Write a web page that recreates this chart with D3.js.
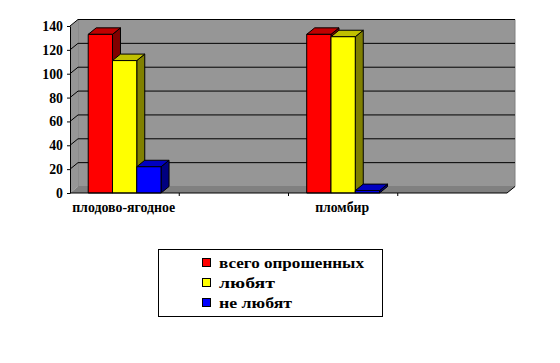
<!DOCTYPE html>
<html>
<head>
<meta charset="utf-8">
<script src="https://cdn.jsdelivr.net/npm/d3@7"></script>
<style>
  html, body { margin: 0; padding: 0; background: #ffffff; }
  svg { display: block; }
  svg text { font-family: 'Liberation Serif', 'Times New Roman', Times, 'DejaVu Serif', serif !important; font-weight: bold; fill: #000; }
</style>
</head>
<body>
<div id="chart"></div>
<script>
// categories (two of the four slots are empty in the source chart)
const categories = ['плодово-ягодное', '', 'пломбир', ''];
const seriesNames = ['всего опрошенных', 'любят', 'не любят'];
const seriesTotal = [133, null, 133, null];
const seriesLike = [111, null, 131, null];
const seriesDislike = [22, null, 2, null];
const yTicks = [0, 20, 40, 60, 80, 100, 120, 140];

const FRONT = ['#ff0000', '#ffff00', '#0000ff'];
const TOP = ['#c00000', '#c0c000', '#0000c0'];
const SIDE = ['#800000', '#808000', '#000080'];
const WALL = '#969696';
const FLOOR = '#808080';
const FONT = "'Liberation Serif', 'Times New Roman', Times, 'DejaVu Serif', serif";

const width = 560, height = 363;
const DX = 8, DY = -6.5;   // 3D depth offset

const svg = d3.select('#chart').append('svg')
    .attr('width', width)
    .attr('height', height);

const y = d3.scaleLinear().domain([0, 140]).range([193, 26]);
const x = d3.scaleBand().domain(d3.range(categories.length)).range([70, 507]).padding(0);
const inner = d3.scaleBand().domain(d3.range(seriesNames.length))
    .range([0, x.bandwidth()]).paddingInner(0).paddingOuter(0.75);

const x0 = x.range()[0], x1 = x.range()[1];
const yTop = y(140), yBase = y(0);

const pts = (arr) => arr.map((p) => p.join(',')).join(' ');

// back wall
svg.append('polygon')
    .attr('points', pts([[x0 + DX, yTop + DY], [x1 + DX, yTop + DY], [x1 + DX, yBase + DY], [x0 + DX, yBase + DY]]))
    .attr('fill', WALL)
    .attr('stroke', '#808080');
// left side wall
svg.append('polygon')
    .attr('points', pts([[x0, yTop], [x0 + DX, yTop + DY], [x0 + DX, yBase + DY], [x0, yBase]]))
    .attr('fill', WALL);

// gridlines on walls
const grid = svg.append('g');
yTicks.filter((t) => t > 0).forEach((t) => {
    grid.append('polyline')
        .attr('points', pts([[x0, y(t)], [x0 + DX, y(t) + DY], [x1 + DX, y(t) + DY]]))
        .attr('fill', 'none')
        .attr('stroke', '#000')
        .attr('stroke-width', 1);
});

// floor
svg.append('polygon')
    .attr('points', pts([[x0, yBase], [x0 + DX, yBase + DY], [x1 + DX, yBase + DY], [x1, yBase]]))
    .attr('fill', FLOOR);

// bars
const allSeries = [seriesTotal, seriesLike, seriesDislike];
const bars = svg.append('g');
categories.forEach((c, ci) => {
    allSeries.forEach((vals, si) => {
        const v = vals[ci];
        if (v == null) return;
        const bx = x(ci) + inner(si);
        const bw = inner.bandwidth();
        const by = y(v);
        const g = bars.append('g').attr('stroke', '#000').attr('stroke-width', 1).attr('stroke-linejoin', 'round');
        g.append('polygon')
            .attr('points', pts([[bx + bw, by], [bx + bw + DX, by + DY], [bx + bw + DX, yBase + DY], [bx + bw, yBase]]))
            .attr('fill', SIDE[si]);
        g.append('polygon')
            .attr('points', pts([[bx, by], [bx + DX, by + DY], [bx + bw + DX, by + DY], [bx + bw, by]]))
            .attr('fill', TOP[si]);
        g.append('rect')
            .attr('x', bx).attr('y', by)
            .attr('width', bw).attr('height', yBase - by)
            .attr('fill', FRONT[si]);
    });
});

// value axis
const yAxis = svg.append('g')
    .attr('transform', `translate(${x0},0)`)
    .attr('font-family', FONT)
    .call(d3.axisLeft(y).tickValues(yTicks).tickSize(3).tickSizeOuter(0).tickPadding(4));
yAxis.attr('font-family', FONT);
yAxis.select('.domain').attr('stroke', '#000');
yAxis.selectAll('.tick line').attr('stroke', '#000');
yAxis.selectAll('.tick text')
    .style('font-family', FONT)
    .attr('font-weight', 'bold')
    .attr('font-size', 14)
    .attr('textLength', 20)
    .attr('lengthAdjust', 'spacingAndGlyphs')
    .attr('textLength', (d) => String(d).length * 6.9)
    .attr('fill', '#000');

// category axis
svg.append('polyline')
    .attr('points', pts([[x0, yBase], [x1, yBase], [x1 + DX, yBase + DY]]))
    .attr('fill', 'none')
    .attr('stroke', '#000');
const xTicks = d3.range(1, categories.length).map((i) => x(i));
svg.append('g').selectAll('line')
    .data(xTicks)
    .join('line')
    .attr('x1', (d) => d).attr('x2', (d) => d)
    .attr('y1', yBase).attr('y2', yBase + 3)
    .attr('stroke', '#000');

const labelWidths = { 'плодово-ягодное': 103, 'пломбир': 54 };
svg.append('g').selectAll('text')
    .data(categories.map((c, i) => ({ c, i })).filter((d) => d.c))
    .join('text')
    .attr('x', (d) => x(d.i) + x.bandwidth() / 2 - 1)
    .attr('y', 212)
    .attr('text-anchor', 'middle')
    .style('font-family', FONT)
    .attr('font-size', 14)
    .attr('textLength', (d) => labelWidths[d.c])
    .attr('lengthAdjust', 'spacingAndGlyphs')
    .text((d) => d.c);

// legend
const legend = svg.append('g');
legend.append('rect')
    .attr('x', 158.5).attr('y', 249.5)
    .attr('width', 224).attr('height', 67)
    .attr('fill', '#fff')
    .attr('stroke', '#000');
const legendWidths = [145, 56, 73];
seriesNames.forEach((name, i) => {
    const ry = 258.5 + i * 20;
    legend.append('rect')
        .attr('x', 202.5).attr('y', ry)
        .attr('width', 8).attr('height', 8)
        .attr('fill', FRONT[i])
        .attr('stroke', '#000');
    legend.append('text')
        .attr('x', 219)
        .attr('y', ry + 9)
        .style('font-family', FONT)
        .attr('font-size', 14)
        .attr('textLength', legendWidths[i])
        .attr('lengthAdjust', 'spacingAndGlyphs')
        .text(name);
});
</script>
</body>
</html>
